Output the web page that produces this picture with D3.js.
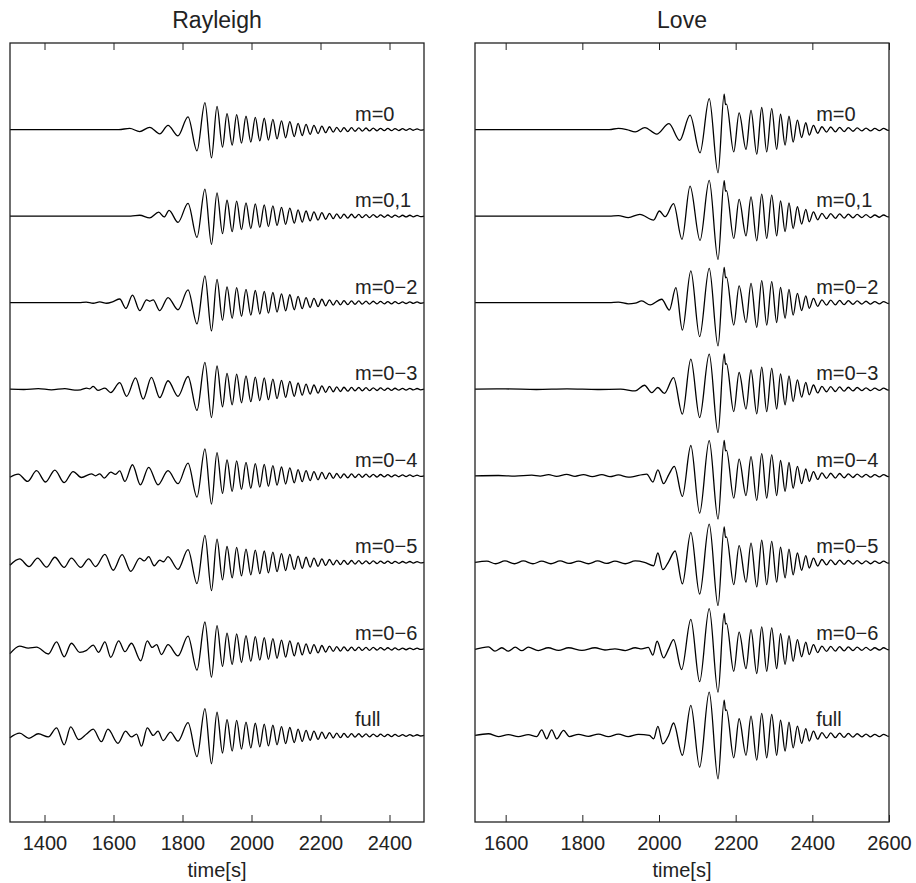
<!DOCTYPE html>
<html>
<head>
<meta charset="utf-8">
<script src="https://cdn.jsdelivr.net/npm/d3@7"></script>
<style>
body { margin: 0; background: #fff; }
text { font-family: "Liberation Sans", Arial, sans-serif; fill: #222; }
</style>
</head>
<body>
<svg id="chart" width="916" height="883"></svg>
<script>
// trace labels, top to bottom
const traceNames = ["m=0", "m=0,1", "m=0\u22122", "m=0\u22123", "m=0\u22124", "m=0\u22125", "m=0\u22126", "full"];

const rayleighTicks = [1400, 1600, 1800, 2000, 2200, 2400];
const loveTicks = [1600, 1800, 2000, 2200, 2400, 2600];

// [time s, normalized amplitude] at the extrema
// early part differs per trace (higher modes arrive first)
const rayleighEarly = [
    [[1300,0],[1615,0],[1647,0.04],[1676,-0.07],[1705,0.08],[1734,-0.15],[1758,0.15],[1787,-0.22]],
    [[1300,0],[1650,0],[1676,0.03],[1705,-0.06],[1731,0.14],[1747,-0.03],[1761,0.2],[1787,-0.22]],
    [[1300,0],[1500,0],[1521,0.02],[1541,-0.02],[1560,0.03],[1580,-0.02],[1599,0.04],[1618,0.13],[1636,-0.2],[1655,0.27],[1676,-0.28],[1696,0.1],[1705,0.05],[1715,0.1],[1734,-0.28],[1758,0.18],[1787,-0.25]],
    [[1300,0],[1340,-0.01],[1382,0.02],[1420,-0.02],[1459,0.02],[1488,-0.03],[1505,-0.02],[1522,0.04],[1531,0.01],[1541,0.1],[1555,-0.04],[1575,0.04],[1592,-0.12],[1618,0.23],[1638,-0.25],[1664,0.4],[1686,-0.35],[1710,0.42],[1734,-0.3],[1758,0.3],[1787,-0.25]],
    [[1300,-0.05],[1324,0.06],[1351,-0.2],[1377,0.18],[1403,-0.22],[1430,0.2],[1457,-0.24],[1483,0.15],[1507,-0.06],[1536,0.07],[1548,0],[1560,0.07],[1573,-0.08],[1592,0.13],[1606,0.05],[1618,0.17],[1633,-0.2],[1655,0.39],[1678,-0.32],[1702,0.3],[1729,-0.32],[1758,0.18],[1787,-0.28]],
    [[1300,-0.1],[1328,0.12],[1355,-0.15],[1380,0.15],[1406,-0.17],[1430,0.18],[1457,-0.18],[1478,0.15],[1505,-0.18],[1528,0.12],[1548,-0.15],[1575,0.28],[1599,-0.28],[1625,0.27],[1650,-0.32],[1676,0.15],[1689,0.05],[1702,0.2],[1718,-0.12],[1734,0.08],[1745,0.02],[1758,0.2],[1787,-0.25]],
    [[1300,-0.17],[1328,0.1],[1353,0.03],[1377,0.06],[1411,-0.18],[1435,0.25],[1457,-0.28],[1478,0.2],[1502,-0.12],[1522,-0.05],[1541,0.13],[1557,-0.12],[1575,0.25],[1592,-0.3],[1615,0.28],[1633,-0.1],[1652,0.2],[1679,-0.42],[1698,0.28],[1712,0.05],[1725,0.15],[1739,-0.2],[1758,0.15],[1787,-0.25]],
    [[1300,-0.08],[1328,0.08],[1355,-0.1],[1382,0.06],[1411,-0.05],[1435,0.27],[1457,-0.33],[1476,0.3],[1499,-0.15],[1522,0.05],[1541,0.22],[1565,-0.22],[1584,0.22],[1613,-0.28],[1635,0.15],[1652,-0.05],[1667,0.05],[1681,-0.38],[1698,0.27],[1715,0],[1729,0.15],[1744,-0.18],[1765,0.12],[1787,-0.2]]
];

// fundamental-mode packet, same in all Rayleigh traces
const rayleighMain = [
    [1816,0.45],[1842,-0.75],[1865,0.95],[1884,-1.0],[1900,0.82],[1916,-0.62],[1929,0.56],[1944,-0.55],
    [1957,0.53],[1971,-0.48],[1984,0.47],[1998,-0.44],[2011,0.43],[2024,-0.4],[2037,0.4],[2049,-0.37],
    [2062,0.36],[2074,-0.33],[2087,0.31],[2099,-0.29],[2111,0.28],[2124,-0.25],[2135,0.22],[2147,-0.21],
    [2158,0.18],[2170,-0.17],[2181,0.15],[2193,-0.14],[2204,0.12],[2215,-0.11],[2226,0.1],[2237,-0.09],
    [2247,0.08],[2258,-0.08],[2268,0.07],[2279,-0.07],[2290,0.065],[2300,-0.06],[2311,0.06],[2321,-0.055],
    [2332,0.055],[2342,-0.05],[2353,0.05],[2364,-0.045],[2374,0.045],[2385,-0.04],[2395,0.04],[2406,-0.04],
    [2416,0.035],[2427,-0.035],[2438,0.03],[2448,-0.03],[2459,0.03],[2469,-0.025],[2480,0.025],[2490,-0.02],[2500,0]
];

const loveEarly = [
    [[1520,0],[1870,0],[1894,0.04],[1916,0],[1938,-0.08],[1963,0.07],[1994,-0.16],[2026,0.21],[2054,-0.38],[2081,0.51],[2107,-0.82],[2131,1.09]],
    [[1520,0],[1870,0],[1894,0.02],[1920,-0.05],[1950,0.06],[1986,-0.14],[2001,0.18],[2016,-0.02],[2038,0.44],[2060,-0.82],[2081,1.06],[2107,-0.86],[2131,1.26]],
    [[1520,0],[1870,0],[1894,0.02],[1920,-0.04],[1938,-0.02],[1955,0.06],[1977,-0.08],[2007,0.12],[2027,-0.26],[2044,0.53],[2061,-0.97],[2083,1.12],[2106,-1.2],[2131,1.21]],
    [[1520,0],[1600,0.01],[1680,-0.01],[1760,0.01],[1840,-0.01],[1900,0],[1938,-0.06],[1962,0.14],[1981,-0.12],[1997,0.06],[2014,-0.15],[2038,0.41],[2061,-0.88],[2083,1.06],[2106,-1.0],[2131,1.24]],
    [[1520,0],[1581,0.01],[1624,-0.01],[1668,0.02],[1690,-0.01],[1712,0.04],[1733,-0.02],[1759,0.05],[1781,-0.02],[1803,0.04],[1826,-0.03],[1851,0.04],[1872,-0.03],[1894,0.03],[1920,-0.05],[1968,0.06],[1984,-0.22],[1997,0.21],[2012,-0.28],[2026,0.05],[2040,0.33],[2061,-0.73],[2083,1.07],[2106,-1.32],[2131,1.24]],
    [[1520,0],[1551,0.04],[1574,-0.05],[1598,0.05],[1623,-0.05],[1646,0.05],[1671,-0.05],[1694,0.04],[1718,-0.05],[1742,0.05],[1765,-0.04],[1790,0.04],[1816,-0.05],[1840,0.05],[1863,-0.04],[1885,0.04],[1912,-0.05],[1938,0.05],[1962,0],[1986,-0.12],[1997,0.33],[2010,-0.26],[2025,0.02],[2042,0.4],[2061,-0.76],[2083,1.06],[2106,-1.12],[2131,1.35]],
    [[1520,-0.02],[1555,0.07],[1572,-0.08],[1590,0.04],[1607,-0.08],[1625,0.06],[1642,-0.06],[1659,0.06],[1685,-0.06],[1711,0.04],[1738,-0.05],[1764,0.04],[1799,-0.05],[1833,0.04],[1859,-0.04],[1885,0],[1912,-0.06],[1938,0.04],[1955,0],[1972,0.05],[1984,-0.22],[1995,0.27],[2012,-0.32],[2025,0],[2038,0.33],[2059,-0.73],[2083,1.04],[2106,-1.16],[2131,1.42]],
    [[1520,0],[1555,0.06],[1581,-0.04],[1607,0.03],[1633,-0.04],[1659,0.03],[1681,-0.04],[1694,0.2],[1707,-0.12],[1720,0.2],[1733,-0.12],[1751,0.18],[1766,-0.04],[1790,0.04],[1816,-0.03],[1842,0.05],[1868,-0.04],[1894,0.05],[1920,-0.04],[1946,0.04],[1975,0],[1986,-0.12],[1997,0.32],[2010,-0.3],[2025,0],[2038,0.44],[2061,-0.7],[2083,1.06],[2106,-1.12],[2131,1.53]]
];

const loveMain = [
    [2154,-1.53],[2170,1.25],[2173.5,0.88],[2176,0.9],[2195,-0.79],[2209,0.59],[2227,-0.7],[2240,0.68],
    [2255,-0.87],[2268,0.78],[2281,-0.79],[2294,0.74],[2307,-0.7],[2317,0.54],[2329,-0.55],[2339,0.47],
    [2350,-0.44],[2361,0.33],[2372,-0.28],[2383,0.24],[2392,-0.2],[2403,0.15],[2414,-0.13],[2425,0.1],
    [2437,-0.09],[2448,0.09],[2460,-0.08],[2471,0.08],[2483,-0.07],[2494,0.07],[2506,-0.06],[2517,0.06],
    [2529,-0.05],[2540,0.05],[2552,-0.05],[2563,0.04],[2575,-0.04],[2586,0.04],[2598,-0.03],[2600,-0.02]
];

const panels = [
    { title: "Rayleigh", domain: [1300, 2500], ticks: rayleighTicks, left: 10, right: 424, labelAt: 2300, early: rayleighEarly, main: rayleighMain },
    { title: "Love", domain: [1520, 2600], ticks: loveTicks, left: 475, right: 889, labelAt: 2410, early: loveEarly, main: loveMain }
];

const plotTop = 43, plotBottom = 822;
const gain = 0.327; // amplitude unit as a fraction of the trace spacing

const svg = d3.select("#chart");
const y = d3.scaleLinear().domain([0, traceNames.length + 1]).range([plotTop, plotBottom]);

panels.forEach(p => {
    const x = d3.scaleLinear().domain(p.domain).range([p.left, p.right]);
    const g = svg.append("g");

    p.early.forEach((seg, i) => {
        const line = d3.line()
            .x(d => x(d[0]))
            .y(d => y(i + 1 - gain * d[1]))
            .curve(d3.curveMonotoneX);
        g.append("path")
            .attr("d", line(seg.concat(p.main)))
            .attr("fill", "none")
            .attr("stroke", "#000")
            .attr("stroke-width", 1.3);

        g.append("text")
            .attr("x", x(p.labelAt))
            .attr("y", y(i + 1) - 9)
            .style("font-size", "20px")
            .text(traceNames[i]);
    });

    g.append("rect")
        .attr("x", p.left)
        .attr("y", plotTop)
        .attr("width", p.right - p.left)
        .attr("height", plotBottom - plotTop)
        .attr("fill", "none")
        .attr("stroke", "#222")
        .attr("stroke-width", 1.3);

    const xb = g.append("g")
        .attr("transform", `translate(0,${plotBottom})`)
        .call(d3.axisBottom(x).tickValues(p.ticks).tickSize(-7).tickPadding(14).tickFormat(d3.format("d")));
    xb.select(".domain").remove();
    xb.selectAll("line").attr("stroke", "#222");
    xb.selectAll("text").style("font-size", "20px").attr("fill", "#222");

    const xt = g.append("g")
        .attr("transform", `translate(0,${plotTop})`)
        .call(d3.axisTop(x).tickValues(p.ticks).tickSize(-7).tickFormat(""));
    xt.select(".domain").remove();
    xt.selectAll("line").attr("stroke", "#222");

    g.append("text")
        .attr("x", (p.left + p.right) / 2)
        .attr("y", 877)
        .attr("text-anchor", "middle")
        .style("font-size", "20px")
        .text("time[s]");

    g.append("text")
        .attr("x", (p.left + p.right) / 2)
        .attr("y", 28)
        .attr("text-anchor", "middle")
        .style("font-size", "23px")
        .text(p.title);
});
</script>
</body>
</html>
